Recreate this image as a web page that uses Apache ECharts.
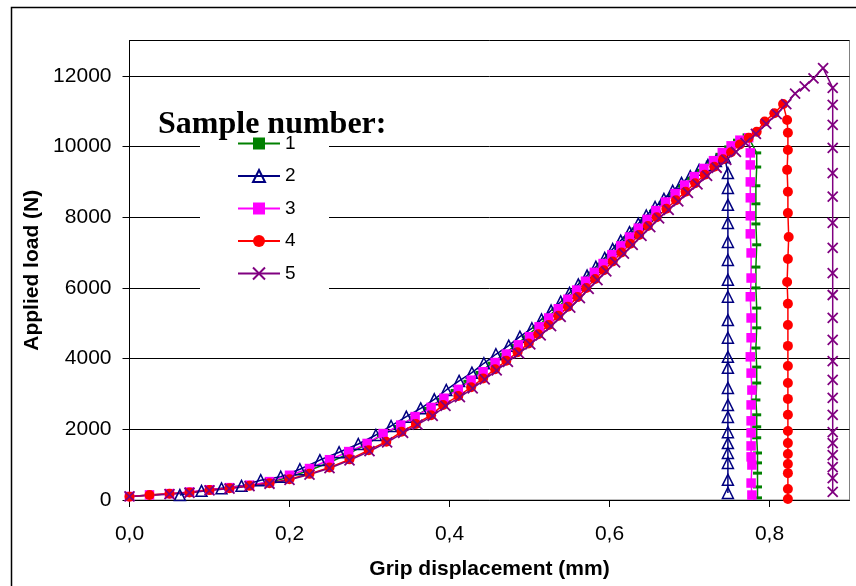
<!DOCTYPE html>
<html>
<head>
<meta charset="utf-8">
<script src="https://cdn.jsdelivr.net/npm/echarts@6/dist/echarts.min.js"></script>
<style>html,body{margin:0;padding:0;background:#fff;}#c{width:856px;height:586px;}</style>
</head>
<body>
<div id="c"></div>
<script>
// Sample 1 (green dashes): [grip displacement mm, load N]
var s1 = [[0,100],[0.025,140],[0.05,180],[0.075,220],[0.1,285],[0.125,345],[0.15,410],[0.175,500],[0.2,650],[0.225,840],[0.25,1060],[0.273,1300],[0.295,1560],[0.315,1830],[0.336,2080],[0.355,2330],[0.373,2590],[0.39,2850],[0.407,3100],[0.423,3360],[0.438,3610],[0.453,3870],[0.468,4120],[0.482,4370],[0.496,4620],[0.509,4880],[0.521,5130],[0.533,5390],[0.545,5650],[0.556,5910],[0.567,6170],[0.578,6420],[0.589,6670],[0.6,6920],[0.611,7170],[0.622,7420],[0.633,7670],[0.644,7920],[0.655,8170],[0.667,8410],[0.679,8650],[0.691,8880],[0.702,9100],[0.714,9330],[0.726,9560],[0.738,9780],[0.749,9990],[0.76,10180],[0.772,10330],
  [0.784,9820],[0.784,9420],[0.783,8890],[0.783,8380],[0.783,7810],[0.784,7220],[0.783,6590],[0.783,6000],[0.784,5430],[0.784,4870],[0.783,4300],[0.784,3760],[0.784,3310],[0.783,2830],[0.784,2410],[0.784,2070],[0.784,1760],[0.785,1330],[0.785,1050],[0.785,760],[0.785,370],[0.785,60]];
// Sample 2 (open triangles)
var s2 = [[0.063,140],[0.09,260],[0.115,330],[0.14,400],[0.164,560],[0.189,660],[0.213,870],[0.238,1130],[0.262,1350],[0.286,1585],[0.308,1840],[0.327,2094],[0.346,2358],[0.364,2594],[0.381,2849],[0.396,3113],[0.412,3368],[0.428,3603],[0.443,3868],[0.458,4123],[0.474,4367],[0.488,4622],[0.503,4858],[0.515,5110],[0.527,5360],[0.539,5610],[0.55,5860],[0.561,6100],[0.572,6350],[0.583,6600],[0.594,6850],[0.604,7100],[0.614,7340],[0.625,7580],[0.636,7820],[0.646,8050],[0.657,8290],[0.668,8520],[0.679,8750],[0.69,8970],[0.701,9160],[0.712,9340],[0.723,9480],[0.733,9590],[0.744,9700],
  [0.748,9250],[0.748,8830],[0.748,8350],[0.748,7840],[0.748,7300],[0.748,6790],[0.748,6230],[0.748,5750],[0.748,5090],[0.748,4590],[0.748,4050],[0.748,3740],[0.748,3170],[0.748,2690],[0.748,2350],[0.748,1920],[0.748,1610],[0.748,1330],[0.748,1050],[0.748,570],[0.748,200]];
// Sample 3 (filled squares)
var s3 = [[0,100],[0.025,145],[0.05,180],[0.075,225],[0.1,290],[0.125,350],[0.15,420],[0.175,520],[0.2,700],[0.225,890],[0.25,1140],[0.274,1370],[0.297,1600],[0.317,1880],[0.339,2120],[0.357,2360],[0.377,2620],[0.393,2880],[0.411,3130],[0.427,3390],[0.442,3630],[0.457,3890],[0.471,4130],[0.486,4390],[0.5,4620],[0.512,4900],[0.524,5150],[0.536,5410],[0.548,5680],[0.559,5940],[0.57,6190],[0.581,6440],[0.592,6690],[0.603,6940],[0.614,7190],[0.625,7440],[0.636,7690],[0.647,7940],[0.658,8190],[0.67,8430],[0.682,8670],[0.694,8910],[0.706,9150],[0.718,9380],[0.73,9600],[0.741,9830],[0.752,10020],[0.763,10180],[0.774,10250],
  [0.776,9820],[0.776,9480],[0.776,9000],[0.776,8550],[0.776,8040],[0.776,7530],[0.777,6990],[0.777,6280],[0.776,5750],[0.777,5150],[0.777,4590],[0.776,4050],[0.777,3590],[0.778,3110],[0.777,2690],[0.777,2240],[0.777,1900],[0.777,1530],[0.777,1220],[0.778,990],[0.777,480],[0.778,140]];
// Sample 4 (filled circles)
var s4 = [[0,95],[0.025,140],[0.05,175],[0.075,215],[0.1,280],[0.125,335],[0.15,400],[0.175,475],[0.2,585],[0.225,740],[0.25,920],[0.275,1150],[0.299,1410],[0.321,1650],[0.34,1930],[0.358,2150],[0.377,2400],[0.392,2690],[0.411,2940],[0.427,3190],[0.442,3440],[0.457,3700],[0.471,3940],[0.485,4180],[0.499,4430],[0.511,4690],[0.524,4950],[0.536,5210],[0.548,5470],[0.56,5740],[0.571,6000],[0.582,6250],[0.593,6500],[0.604,6750],[0.615,7000],[0.626,7250],[0.637,7500],[0.648,7750],[0.659,8000],[0.671,8240],[0.683,8480],[0.695,8720],[0.707,8960],[0.719,9200],[0.731,9430],[0.742,9640],[0.752,9840],[0.763,10060],[0.774,10250],[0.784,10420],[0.794,10710],[0.806,10940],[0.817,11200],
  [0.822,10750],[0.823,10390],[0.823,9900],[0.822,9340],[0.823,8720],[0.823,8120],[0.824,7440],[0.823,6820],[0.822,6170],[0.823,5550],[0.823,4950],[0.823,4360],[0.823,3790],[0.823,3310],[0.823,2860],[0.823,2410],[0.823,1950],[0.823,1610],[0.823,1300],[0.823,1020],[0.823,760],[0.823,310],[0.823,30]];
// Sample 5 (crosses)
var s5 = [[0,100],[0.05,165],[0.075,205],[0.1,270],[0.125,325],[0.15,390],[0.175,460],[0.2,570],[0.225,720],[0.25,900],[0.275,1120],[0.3,1380],[0.322,1630],[0.342,1900],[0.36,2130],[0.379,2380],[0.395,2660],[0.413,2910],[0.429,3160],[0.444,3410],[0.459,3670],[0.473,3910],[0.487,4150],[0.501,4400],[0.514,4660],[0.527,4920],[0.539,5180],[0.551,5440],[0.563,5710],[0.574,5970],[0.585,6220],[0.596,6470],[0.607,6720],[0.618,6970],[0.629,7220],[0.64,7470],[0.651,7720],[0.662,7970],[0.674,8210],[0.686,8450],[0.698,8690],[0.71,8930],[0.722,9170],[0.734,9400],[0.746,9620],[0.758,9850],[0.77,10100],[0.783,10360],[0.796,10640],[0.809,10920],[0.821,11200],[0.832,11500],[0.844,11700],[0.855,11930],[0.867,12220],
  [0.879,11660],[0.879,11180],[0.879,10610],[0.879,9960],[0.879,9250],[0.879,8580],[0.879,7840],[0.879,7130],[0.879,6420],[0.879,5800],[0.879,5150],[0.879,4530],[0.879,3930],[0.879,3400],[0.879,2890],[0.879,2410],[0.879,1920],[0.879,1610],[0.879,1270],[0.879,930],[0.879,620],[0.879,230]];

var seriesNames = ['1', '2', '3', '4', '5'];
var legendTitle = 'Sample number:';
var xTitle = 'Grip displacement (mm)';
var yTitle = 'Applied load (N)';

var chart = echarts.init(document.getElementById('c'), null, {renderer: 'canvas'});
var crossPath = 'path://M0,0L10,10M10,0L0,10';
var dashPath = 'path://M0,0H9V3H0Z';
function mk(name, data, color, symbol, size, fill, bw) {
  return {
    name: name, type: 'line', data: data, showAllSymbol: true,
    symbol: symbol, symbolSize: size, symbolKeepAspect: true, animation: false,
    lineStyle: {color: color, width: 1.5},
    itemStyle: {color: fill, borderColor: color, borderWidth: bw},
    emphasis: {disabled: true}
  };
}
var option = {
  animation: false,
  backgroundColor: '#fff',
  textStyle: {fontFamily: 'Liberation Sans'},
  title: {
    text: legendTitle, left: 153, top: 104,
    textStyle: {fontFamily: 'Liberation Serif', fontWeight: 'bold', fontSize: 32, color: '#000'}
  },
  graphic: [
    {type: 'rect', z: 1, shape: {x: 11.5, y: 7.5, width: 900, height: 700}, style: {fill: 'none', stroke: '#000', lineWidth: 1.5}},
    {type: 'rect', z: 1, shape: {x: 200, y: 136, width: 129, height: 156}, style: {fill: '#fff'}}
  ],
  legend: {
    data: seriesNames, orient: 'vertical', left: 237, top: 134,
    itemWidth: 42, itemHeight: 15, itemGap: 13.5, padding: 0,
    textStyle: {fontSize: 19, color: '#000', fontFamily: 'Liberation Sans'},
    selectedMode: false
  },
  grid: {left: 129.5, right: 6.5, top: 40.5, bottom: 86, show: true, borderColor: '#808080', borderWidth: 1, containLabel: false},
  xAxis: {
    type: 'value', min: 0, max: 0.9, interval: 0.2,
    name: xTitle, nameLocation: 'middle', nameGap: 59,
    nameTextStyle: {fontSize: 21, fontWeight: 'bold', color: '#000'},
    axisLine: {show: true, lineStyle: {color: '#000', width: 1}},
    axisTick: {show: true, length: 7, inside: false, lineStyle: {color: '#000'}},
    axisLabel: {fontSize: 21, color: '#000', margin: 24, showMaxLabel: false,
      formatter: function (v) { return v > 0.85 ? '' : v.toFixed(1).replace('.', ','); }},
    splitLine: {show: false}
  },
  yAxis: {
    type: 'value', min: 0, max: 13000, interval: 2000,
    name: yTitle, nameLocation: 'middle', nameGap: 84, nameRotate: 90,
    nameTextStyle: {fontSize: 21, fontWeight: 'bold', color: '#000'},
    axisLine: {show: true, lineStyle: {color: '#000', width: 1}},
    axisTick: {show: true, length: 7, inside: false, lineStyle: {color: '#000'}},
    axisLabel: {fontSize: 21, color: '#000', margin: 18, showMaxLabel: false,
      formatter: function (v) { return v > 12500 ? '' : String(v); }},
    splitLine: {show: true, lineStyle: {color: '#000', width: 1}}
  },
  series: [
    mk(seriesNames[0], s1, '#008000', dashPath, 9, '#008000', 0),
    mk(seriesNames[1], s2, '#000080', 'triangle', 11, 'rgba(0,0,0,0)', 1.5),
    mk(seriesNames[2], s3, '#FF00FF', 'rect', 9.5, '#FF00FF', 0),
    mk(seriesNames[3], s4, '#FF0000', 'circle', 10, '#FF0000', 0),
    mk(seriesNames[4], s5, '#800080', crossPath, 10, 'rgba(0,0,0,0)', 1.8)
  ]
};
chart.setOption(option);
</script>
</body>
</html>
